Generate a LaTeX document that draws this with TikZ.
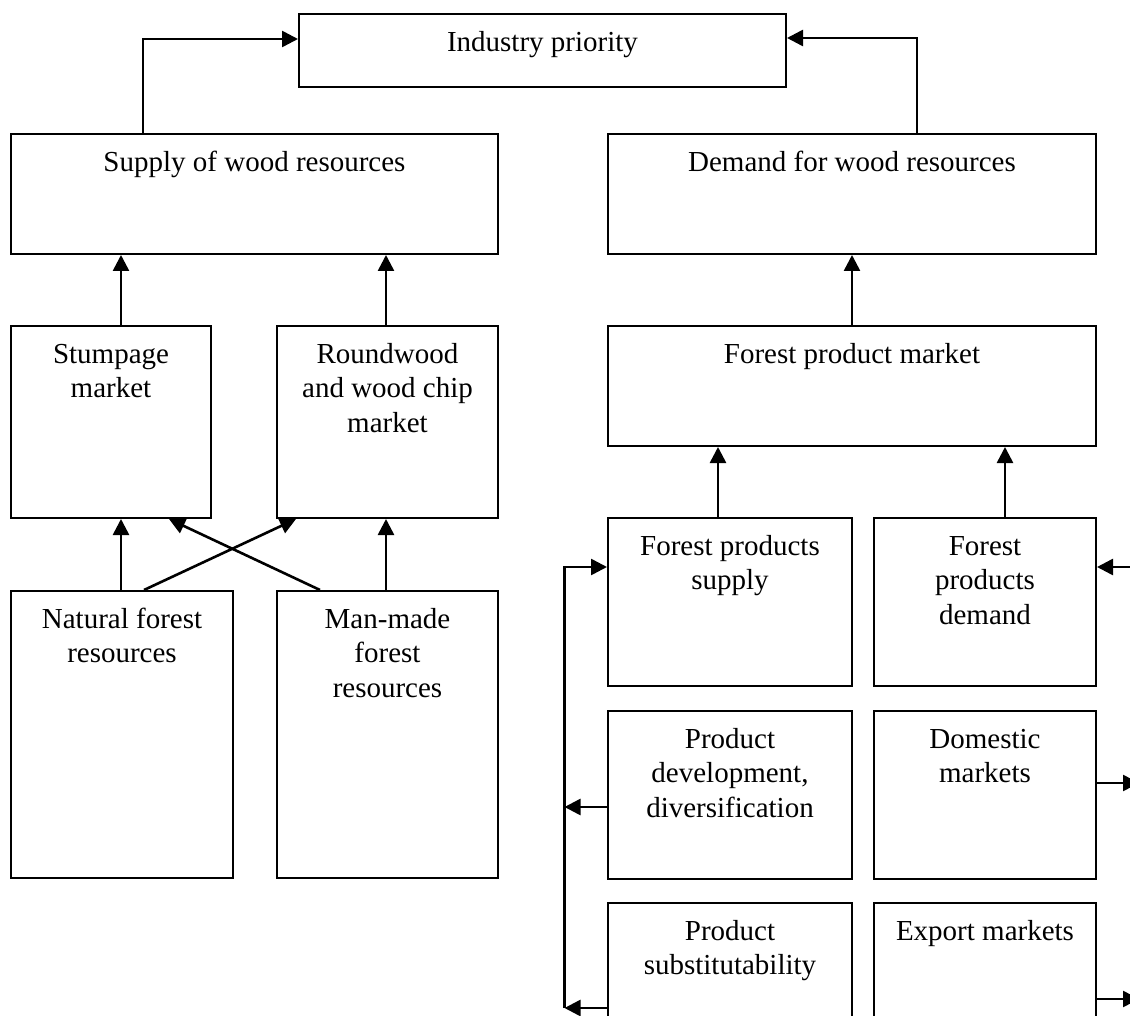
\documentclass[tikz,border=0pt]{standalone}
\usepackage{fontspec}
\setmainfont{Liberation Serif}
\usetikzlibrary{arrows.meta}
\begin{document}
\begin{tikzpicture}[x=1pt,y=-1pt,
  box/.style={draw, line width=2pt, inner sep=0pt, rectangle},
  lbl/.style={anchor=north, align=center, inner sep=0pt, font=\fontsize{29}{34.5}\selectfont},
  arr/.style={line width=2.6pt, -{Triangle[length=16pt,width=16pt]}}]
\useasboundingbox (0,0) rectangle (1130,1016);
\clip (0,0) rectangle (1130,1016);
% boxes
\node[box, minimum width=487pt, minimum height=73pt]  (ind) at (542.5,50.5) {};
\node[box, minimum width=487pt, minimum height=120pt] (sup) at (254.5,194) {};
\node[box, minimum width=488pt, minimum height=120pt] (dem) at (852,194) {};
\node[box, minimum width=200pt, minimum height=192pt] (stu) at (111,422) {};
\node[box, minimum width=221pt, minimum height=192pt] (rw)  at (387.5,422) {};
\node[box, minimum width=488pt, minimum height=120pt] (fpm) at (852,386) {};
\node[box, minimum width=222pt, minimum height=287pt] (nat) at (122,734.5) {};
\node[box, minimum width=221pt, minimum height=287pt] (man) at (387.5,734.5) {};
\node[box, minimum width=244pt, minimum height=168pt] (fps) at (730,602) {};
\node[box, minimum width=222pt, minimum height=168pt] (fpd) at (985,602) {};
\node[box, minimum width=244pt, minimum height=168pt] (pd)  at (730,795) {};
\node[box, minimum width=222pt, minimum height=168pt] (dm)  at (985,795) {};
\node[box, minimum width=244pt, minimum height=168pt] (sub) at (730,987) {};
\node[box, minimum width=222pt, minimum height=168pt] (ex)  at (985,987) {};
% labels
\node[lbl] (tind) at ([yshift=-14pt]ind.north) {\strut Industry priority};
\node[lbl] (tsup) at ([yshift=-14pt]sup.north) {\strut Supply of wood resources};
\node[lbl] (tdem) at ([yshift=-14pt]dem.north) {\strut Demand for wood resources};
\node[lbl] (tstu) at ([yshift=-14pt]stu.north) {\strut Stumpage\\market};
\node[lbl] (trw)  at ([yshift=-14pt]rw.north)  {\strut Roundwood\\and wood chip\\market};
\node[lbl] (tfpm) at ([yshift=-14pt]fpm.north) {\strut Forest product market};
\node[lbl] (tnat) at ([yshift=-14pt]nat.north) {\strut Natural forest\\resources};
\node[lbl] (tman) at ([yshift=-14pt]man.north) {\strut Man-made\\forest\\resources};
\node[lbl] (tfps) at ([yshift=-14pt]fps.north) {\strut Forest products\\supply};
\node[lbl] (tfpd) at ([yshift=-14pt]fpd.north) {\strut Forest\\products\\demand};
\node[lbl] (tpd)  at ([yshift=-14pt]pd.north)  {\strut Product\\development,\\diversification};
\node[lbl] (tdm)  at ([yshift=-14pt]dm.north)  {\strut Domestic\\markets};
\node[lbl] (tsub) at ([yshift=-14pt]sub.north) {\strut Product\\substitutability};
\node[lbl] (tex)  at ([yshift=-14pt]ex.north)  {\strut Export markets};
% top connectors
\draw[arr] ([xshift=133pt]sup.north west) |- ([yshift=11.5pt]ind.west);
\draw[arr] ([xshift=310pt]dem.north west) |- ([yshift=12.5pt]ind.east);
% left column
\draw[arr] ([xshift=111pt]stu.north west) -- ([xshift=111pt]sup.south west);
\draw[arr] ([xshift=110pt]rw.north west) -- ([xshift=376pt]sup.south west);
\draw[arr] ([xshift=111pt]nat.north west) -- ([xshift=111pt]stu.south west);
\draw[arr] ([xshift=134pt]nat.north west) -- ([xshift=20pt]rw.south west);
\draw[arr] ([xshift=44pt]man.north west) -- ([xshift=159pt]stu.south west);
\draw[arr] ([xshift=110pt]man.north west) -- ([xshift=110pt]rw.south west);
% right column
\draw[arr] (fpm.north) -- (dem.south);
\draw[arr] ([xshift=111pt]fps.north west) -- ([xshift=111pt]fpm.south west);
\draw[arr] ([xshift=132pt]fpd.north west) -- ([xshift=398pt]fpm.south west);
% bus on the left
\coordinate (bt) at (564.5,567);
\coordinate (bm) at (564.5,807);
\coordinate (bb) at (564.5,1008);
\draw[arr] (bb) -- (bt) -- (fps.west |- bt);
\draw[arr] (pd.west |- bm) -- (bm);
\draw[arr] (sub.west |- bb) -- (bb);
% right edge arrows
\coordinate (r1) at (1134,567);
\coordinate (r2) at (1139,783);
\coordinate (r3) at (1139,999);
\draw[arr] (r1) -- (fpd.east |- r1);
\draw[arr] (dm.east |- r2) -- (r2);
\draw[arr] (ex.east |- r3) -- (r3);
\end{tikzpicture}
\end{document}
